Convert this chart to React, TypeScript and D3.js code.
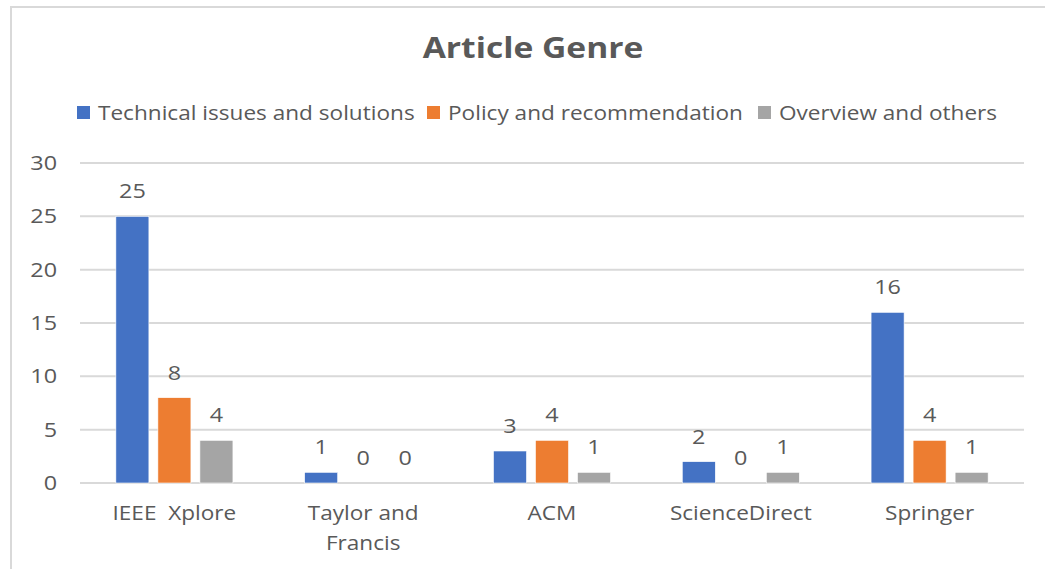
import * as d3 from "d3";

// chart data
const categories = ["IEEE  Xplore", "Taylor and Francis", "ACM", "ScienceDirect", "Springer"];
const categoryLines = [["IEEE  Xplore"], ["Taylor and", "Francis"], ["ACM"], ["ScienceDirect"], ["Springer"]];
const seriesNames = ["Technical issues and solutions", "Policy and recommendation", "Overview and others"];
const technical = [25, 1, 3, 2, 16];
const policy = [8, 0, 4, 0, 4];
const overview = [4, 0, 1, 1, 1];
const yTicks = [0, 5, 10, 15, 20, 25, 30];

const colors = ["#4472C4", "#ED7D31", "#A5A5A5"];
const textColor = "#595959";
const font = "'Open Sans', 'Noto Sans', sans-serif";

// the source picture is a bit wider than tall, so text is stretched horizontally
function SText({x, y, children, anchor = "start", size = 20, sx = 1.13, weight = "normal"}: any) {
  return (
    <text transform={`translate(${x},${y}) scale(${sx},1)`} textAnchor={anchor} fontSize={size}
      fontWeight={weight} fill={textColor} style={{whiteSpace: "pre"}}>{children}</text>
  );
}

export default function App() {
  const width = 1045;
  const height = 569;
  const plot = {left: 80, right: 1024, top: 163, bottom: 483};

  const values = [technical, policy, overview];

  const x = d3.scaleBand<string>().domain(categories).range([plot.left, plot.right]).paddingInner(0.38).paddingOuter(0.19);
  const xSub = d3.scaleBand<number>().domain([0, 1, 2]).range([0, x.bandwidth()]).paddingInner(0.214);
  const y = d3.scaleLinear().domain([0, 30]).range([plot.bottom, plot.top]);

  // legend positions (square)
  const legendX = [77, 427, 758];

  return (
    <svg width={width} height={height} style={{position: "absolute", left: 0, top: 0, background: "#fff"}} fontFamily={font}>
      <rect x={11} y={7} width={1100} height={700} fill="#fff" stroke="#D9D9D9" strokeWidth={2} />

      <SText x={533} y={58} anchor="middle" size={28} sx={1.2} weight="bold">Article Genre</SText>

      {seriesNames.map((name, i) => (
        <g key={name}>
          <rect x={legendX[i]} y={106} width={13} height={13} fill={colors[i]} />
          <SText x={legendX[i] + 21} y={120}>{name}</SText>
        </g>
      ))}

      {yTicks.map(t => (
        <g key={t}>
          <line x1={plot.left} x2={plot.right} y1={y(t)} y2={y(t)} stroke="#D9D9D9" strokeWidth={2} />
          <SText x={57} y={y(t) + 7} anchor="end" sx={1.17}>{t}</SText>
        </g>
      ))}

      {categories.map((c, ci) => (
        <g key={c} transform={`translate(${x(c)},0)`}>
          {values.map((series, si) => {
            const v = series[ci];
            const bx = xSub(si)!;
            return (
              <g key={si}>
                {v > 0 && (
                  <rect x={bx} y={y(v)} width={xSub.bandwidth()} height={y(0) - y(v)} fill={colors[si]} stroke="#fff" strokeWidth={0.6} />
                )}
                <SText x={bx + xSub.bandwidth() / 2} y={y(v) - 18} anchor="middle" sx={1.17}>{v}</SText>
              </g>
            );
          })}
          {categoryLines[ci].map((line, li) => (
            <SText key={li} x={x.bandwidth() / 2} y={520 + li * 30} anchor="middle">{line}</SText>
          ))}
        </g>
      ))}
    </svg>
  );
}
